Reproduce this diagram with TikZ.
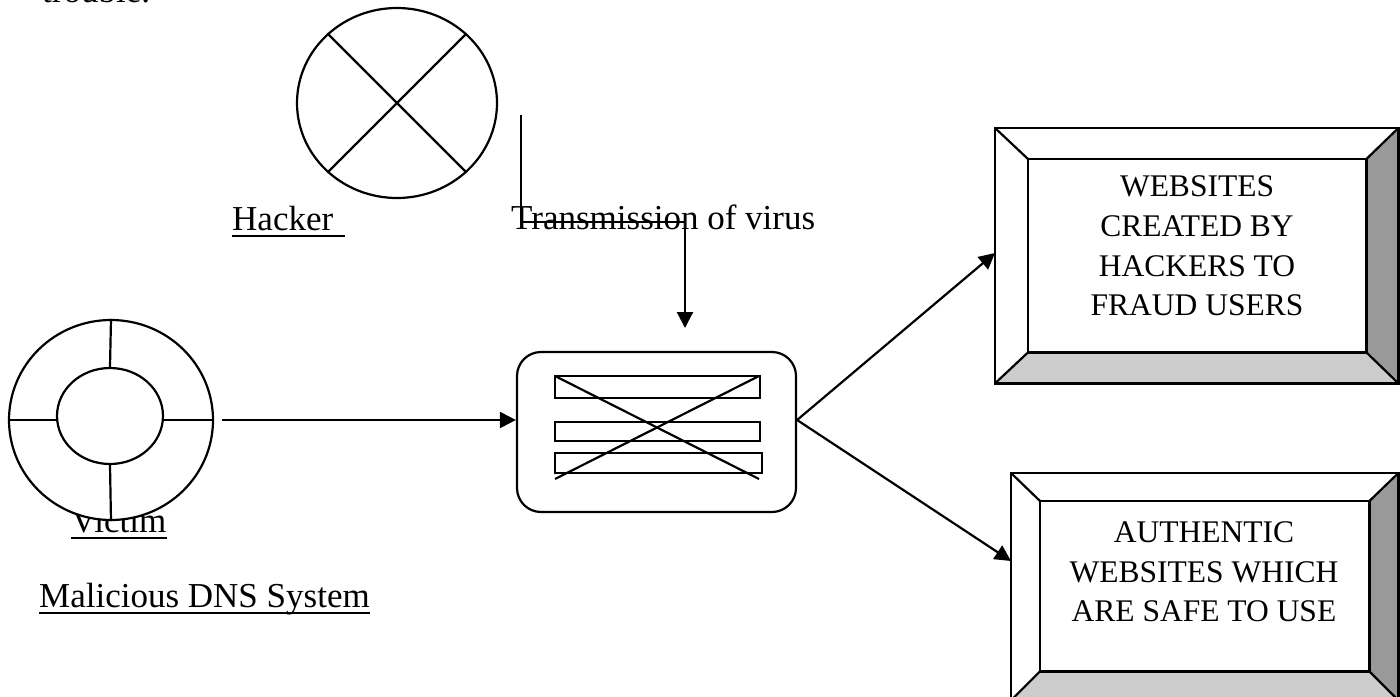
\documentclass[tikz,border=0pt]{standalone}
\usepackage{fontspec}
\setmainfont{Liberation Serif}
\usetikzlibrary{shapes.geometric,arrows.meta,calc}
\definecolor{bevdark}{HTML}{999999}
\definecolor{bevlight}{HTML}{CCCCCC}
\begin{document}
\begin{tikzpicture}[x=1pt,y=-1pt,
  lbl/.style={inner sep=0pt,anchor=base west,font=\fontsize{35}{40}\selectfont},
  boxtxt/.style={inner sep=0pt,align=center,font=\fontsize{31.5}{39.7}\selectfont},
  ln/.style={line width=2.2pt},
  uline/.style={line width=2pt},
  arr/.style={line width=2.2pt,-{Triangle[length=16pt,width=16pt]}},
  ring/.style={ellipse,draw,line width=2.2pt,fill=white,inner sep=0pt},
  frame/.style={inner sep=0pt,anchor=north west},
]
\useasboundingbox (0,0) rectangle (1400,696);

% labels
\node[lbl] (trouble) at (42,2) {trouble.};
\node[lbl] (hackerlbl) at (232,230) {Hacker};
\node[lbl] (trans) at (511,229) {Transmission of virus};
\node[lbl] (victimlbl) at (71,532) {Victim};
\node[lbl] (dnslbl) at (39,607) {Malicious DNS System};
\draw[uline] ($(hackerlbl.base west)+(0,6)$) -- ++(113,0);
\draw[uline] ($(victimlbl.base west)+(0,6)$) -- ($(victimlbl.base east)+(0,6)$);
\draw[uline] ($(dnslbl.base west)+(0,6)$) -- ($(dnslbl.base east)+(0,6)$);

% hacker
\node[ring, minimum width=200pt, minimum height=190pt] (hacker) at (397,103) {};
\draw[ln] (hacker.45) -- (hacker.225);
\draw[ln] (hacker.135) -- (hacker.315);

% transmission connector
\coordinate (t0) at (521,115);
\coordinate (t1) at (685,222);
\coordinate (t2) at (685,328);
\draw[arr] (t0) |- (t1) -- (t2);

% victim
\node[ring, minimum width=204pt, minimum height=200pt] (victim) at (111,420) {};
\node[ring, minimum width=106pt, minimum height=96pt] (victimin) at (110,416) {};
\draw[ln] (victim.north) -- (victimin.north);
\draw[ln] (victim.south) -- (victimin.south);
\draw[ln] (victim.west) -- (victim.west -| victimin.west);
\draw[ln] (victim.east) -- (victim.east -| victimin.east);

% middle box
\node[draw, ln, rounded corners=24pt, minimum width=279pt, minimum height=160pt, inner sep=0pt] (mid) at (656.5,432) {};
\draw[ln] (555,376) rectangle (760,398);
\draw[ln] (555,422) rectangle (760,441);
\draw[ln] (555,453) rectangle (762,473);
\draw[ln] (555,376) -- (759,479);
\draw[ln] (759,376) -- (555,479);

% upper right box
\path node[frame, minimum width=403pt, minimum height=255pt] (web) at (995,128) {};
\path node[frame, minimum width=338pt, minimum height=193pt] (webin) at (1028,159) {};
\fill[bevdark] (web.north east) -- (webin.north east) -- (webin.south east) -- (web.south east) -- cycle;
\fill[bevlight] (web.south west) -- (webin.south west) -- (webin.south east) -- (web.south east) -- cycle;
\draw[ln] (web.north west) -- (webin.north west) (web.north east) -- (webin.north east)
  (web.south west) -- (webin.south west) (web.south east) -- (webin.south east);
\draw[ln] (web.north west) rectangle (web.south east);
\draw[ln] (webin.north west) rectangle (webin.south east);
\node[boxtxt] (webtxt) at (1197,246) {WEBSITES\\CREATED BY\\HACKERS TO\\FRAUD USERS};

% lower right box
\path node[frame, minimum width=387pt, minimum height=227pt] (auth) at (1011,473) {};
\path node[frame, minimum width=329pt, minimum height=170pt] (authin) at (1040,501) {};
\fill[bevdark] (auth.north east) -- (authin.north east) -- (authin.south east) -- (auth.south east) -- cycle;
\fill[bevlight] (auth.south west) -- (authin.south west) -- (authin.south east) -- (auth.south east) -- cycle;
\draw[ln] (auth.north west) -- (authin.north west) (auth.north east) -- (authin.north east)
  (auth.south west) -- (authin.south west) (auth.south east) -- (authin.south east);
\draw[ln] (auth.north west) rectangle (auth.south east);
\draw[ln] (authin.north west) rectangle (authin.south east);
\node[boxtxt] (authtxt) at (1204,572) {AUTHENTIC\\WEBSITES WHICH\\ARE SAFE TO USE};

% connectors
\draw[arr] (victim.east) ++(8,0) -- (mid.west |- victim.east);
\draw[arr] (mid.east |- victim.east) -- ($(web.north west)+(0,125)$);
\draw[arr] (mid.east |- victim.east) -- ($(auth.north west)+(0,88)$);
\end{tikzpicture}
\end{document}
